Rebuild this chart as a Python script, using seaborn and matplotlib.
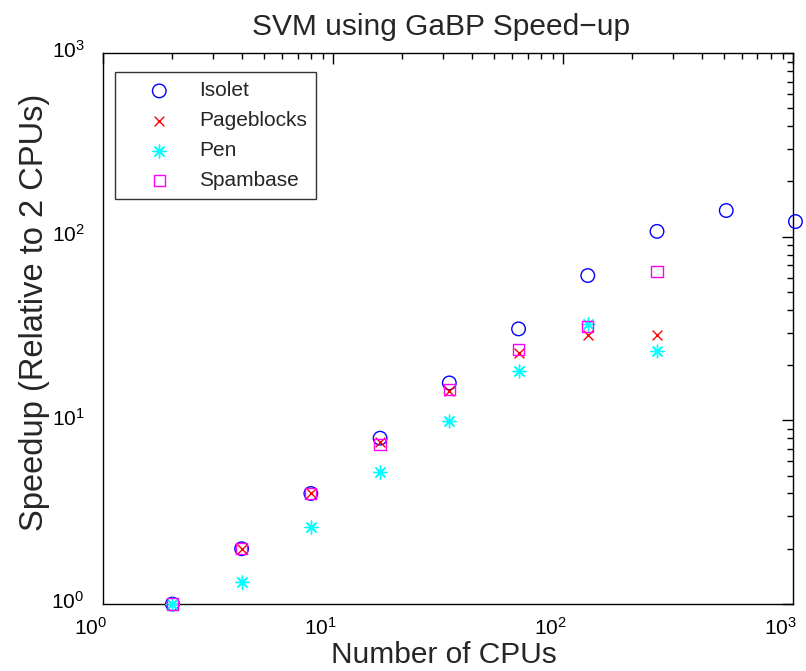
import matplotlib
matplotlib.use("Agg")
import matplotlib.pyplot as plt
import matplotlib.transforms as mtransforms
import seaborn as sns
import pandas as pd

cpus = [2, 4, 8, 16, 32, 64, 128, 256, 512, 1024]
isolet = [1, 2, 4, 8.0, 16.0, 31.5, 61.5, 107, 139, 121]
pageblocks = [1, 2, 4, 7.6, 14.5, 23.3, 29.0, 29.0]
pen = [1, 1.31, 2.62, 5.23, 9.9, 18.6, 33.5, 24.0]
spambase = [1, 2, 4, 7.4, 14.8, 24.4, 32.3, 65.0]

series_names = ["Isolet", "Pageblocks", "Pen", "Spambase"]
series_vals = [isolet, pageblocks, pen, spambase]

sns.set_style("white")
plt.rcParams['font.family'] = ['Liberation Sans', 'DejaVu Sans']
plt.rcParams['mathtext.fontset'] = 'custom'
plt.rcParams['mathtext.rm'] = 'Liberation Sans'
plt.rcParams['mathtext.it'] = 'Liberation Sans'

fig = plt.figure(figsize=(8.06, 6.71), dpi=100)
ax = fig.add_axes([0.128, 0.0998, 0.856, 0.821])

styles = {
    "Isolet": dict(marker="o", s=95, color=(0, 0, 1), facecolor="none", edgecolor=(0, 0, 1), linewidth=1.0),
    "Pageblocks": dict(marker="x", s=50, color=(1, 0, 0), linewidth=1.0),
    "Pen": dict(marker=(8, 2, 0), s=85, color=(0, 1, 1), linewidth=1.0),
    "Spambase": dict(marker="s", s=65, color=(1, 0, 1), facecolor="none", edgecolor=(1, 0, 1), linewidth=1.0),
}

for name, vals in zip(series_names, series_vals):
    df = pd.DataFrame({"cpus": cpus[:len(vals)], "speedup": vals})
    sns.scatterplot(data=df, x="cpus", y="speedup", ax=ax, label=name,
                    clip_on=False, zorder=3, **styles[name])

ax.set_xscale("log")
ax.set_yscale("log")
ax.set_xlim(1, 1000)
ax.set_ylim(1, 1000)

for sp in ax.spines.values():
    sp.set_color("black")
    sp.set_linewidth(1.0)

ax.tick_params(which="both", direction="in", top=True, right=True, colors="black")
ax.tick_params(which="major", length=8, width=1, labelsize=15)
ax.tick_params(axis="x", which="major", pad=9)
ax.tick_params(axis="y", which="major", pad=13.5)
ax.tick_params(which="minor", length=4, width=1)

# shift tick labels like MATLAB (base digits centred on tick)
dx = mtransforms.ScaledTranslation(-13 / 100, 0, fig.dpi_scale_trans)
for lab in ax.get_xticklabels():
    lab.set_transform(lab.get_transform() + dx)
dy = mtransforms.ScaledTranslation(0, 4 / 100, fig.dpi_scale_trans)
for lab in ax.get_yticklabels():
    lab.set_transform(lab.get_transform() + dy)

ax.set_title("SVM using GaBP Speed\u2212up", fontsize=21.5, pad=13, x=0.49)
ax.set_xlabel("Number of CPUs", fontsize=21.5, labelpad=2)
ax.xaxis.label.set_x(0.494)
ax.set_ylabel("Speedup (Relative to 2 CPUs)", fontsize=23.5, labelpad=0.8)
ax.yaxis.label.set_y(0.53)

leg = ax.legend(loc="upper left", bbox_to_anchor=(0.017, 0.965), fontsize=15,
                frameon=True, fancybox=False, edgecolor="black",
                borderpad=0.43, labelspacing=0.52, handletextpad=0.2,
                borderaxespad=0, handlelength=3.4)
leg.get_frame().set_linewidth(1.0)

fig.savefig("out.png", dpi=100, facecolor="white")
